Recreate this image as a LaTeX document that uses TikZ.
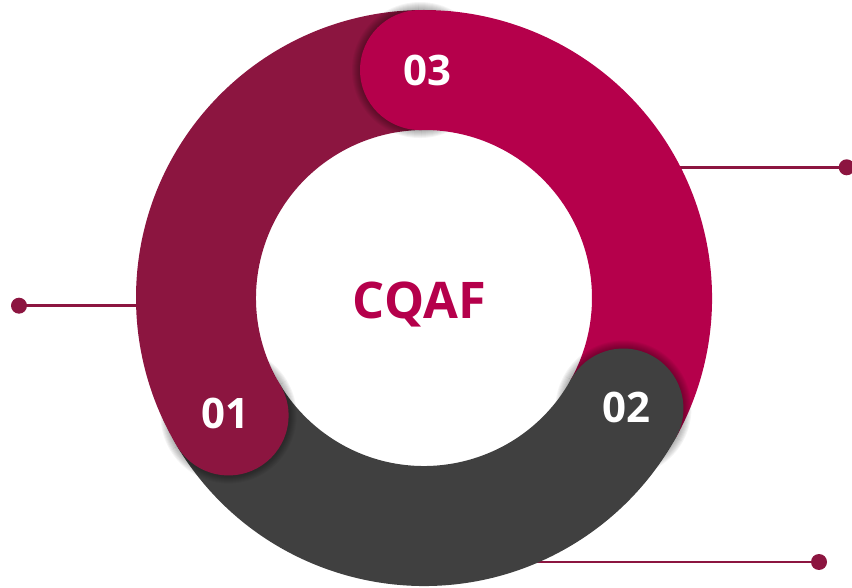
\documentclass[tikz,border=0pt]{standalone}
\usepackage{fontspec}
\setmainfont{Open Sans}
\definecolor{segA}{RGB}{140,21,64}
\definecolor{segB}{RGB}{64,64,64}
\definecolor{segC}{RGB}{181,0,75}
\definecolor{lineC}{RGB}{140,21,64}
\tikzset{
  conn/.style={draw=lineC, line width=2.6pt},
  enddot/.style={circle, fill=lineC, inner sep=0pt, minimum size=16pt},
  capdisc/.style={circle, inner sep=0pt, minimum size=120pt},
  shade1/.style={fill=black, opacity=0.045},
  numlab/.style={text=white, font=\fontsize{42}{50}\selectfont\bfseries, inner sep=0pt},
  titlelab/.style={text=segC, font=\fontsize{50.5}{60}\selectfont\bfseries, inner sep=0pt, text depth=0pt}
}
\begin{document}
\begin{tikzpicture}[x=1pt,y=1pt]
\useasboundingbox (0,0) rectangle (852,587);
% connectors with end dots
\coordinate (pL) at (19,281.3);
\coordinate (pR) at (846.7,419.7);
\coordinate (pB) at (819,25);
\coordinate (eL) at (170,281.3);
\coordinate (eR) at (650,419.7);
\coordinate (eB) at (500,25);
\draw[conn] (pL) -- (eL);
\draw[conn] (pR) -- (eR);
\draw[conn] (pB) -- (eB);
\node[enddot] (dL) at (pL) {};
\node[enddot] (dR) at (pR) {};
\node[enddot] (dB) at (pB) {};
% ring
\begin{scope}[shift={(424,289)}]
  \fill[segA] (91:288pt) arc[start angle=91,end angle=211,radius=288pt]
     -- (211:168pt) arc[start angle=211,end angle=91,radius=168pt] -- cycle;
  \fill[segB] (211:288pt) arc[start angle=211,end angle=331,radius=288pt]
     -- (331:168pt) arc[start angle=331,end angle=211,radius=168pt] -- cycle;
  \fill[segC] (-29:288pt) arc[start angle=-29,end angle=91,radius=288pt]
     -- (91:168pt) arc[start angle=91,end angle=-29,radius=168pt] -- cycle;
  % cap shadows
  \foreach \a in {91,211,331}{
    % on the neighbouring segment side
    \begin{scope}[rotate=\a]
      \clip (-400,0) rectangle (400,400);
      \foreach \k in {1,...,8}{
        \fill[shade1] (228,0) circle[radius={60pt+\k*1pt}];
      }
    \end{scope}
    % outside the ring on the own side
    \begin{scope}[rotate=\a]
      \clip (-400,-400) rectangle (400,0);
      \begin{scope}[even odd rule]
        \clip (-600,-600) rectangle (600,600) (0,0) circle[radius=288pt] (0,0) circle[radius=168pt];
        \foreach \k in {1,...,8}{
          \fill[shade1] (228,0) circle[radius={60pt+\k*1pt}];
        }
      \end{scope}
    \end{scope}
  }
  % caps
  \node[capdisc, fill=segC] (capC) at (91:228pt) {};
  \node[capdisc, fill=segB] (capB) at (331:228pt) {};
  \node[capdisc, fill=segA] (capA) at (211:228pt) {};
\end{scope}
% labels
\node[numlab] (n3) at (427,517) {03};
\node[numlab] (n2) at (626,180) {02};
\node[numlab] (n1) at (225,174) {01};
\node[titlelab] (t) at (419.3,287) {CQAF};
\end{tikzpicture}
\end{document}
